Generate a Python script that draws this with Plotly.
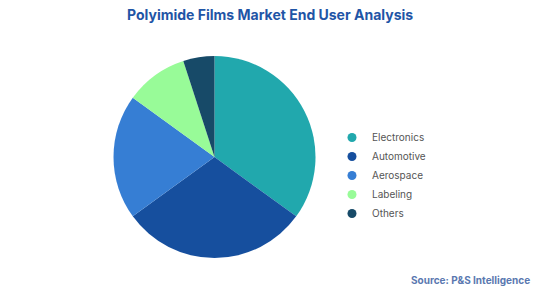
import plotly.graph_objects as go

categories = ["Electronics", "Automotive", "Aerospace", "Labeling", "Others"]
shares = [35, 30, 20, 10, 5]
colors = ["#21A8AD", "#164F9E", "#367ED4", "#98FB98", "#174A68"]

W, H = 539, 303
cx, cy, r = 214.5, 157, 101

fig = go.Figure()
fig.add_trace(go.Pie(
    labels=categories, values=shares, sort=False, direction="clockwise",
    rotation=0, marker=dict(colors=colors, line=dict(width=0)),
    textinfo="none", hoverinfo="label+percent", showlegend=False,
    domain=dict(x=[(cx - r) / W, (cx + r) / W], y=[(H - cy - r) / H, (H - cy + r) / H]),
))
for c, col in zip(categories, colors):
    fig.add_trace(go.Scatter(x=[None], y=[None], mode="markers", name=c,
                             marker=dict(symbol="circle", size=9, color=col)))

fig.update_layout(
    width=W, height=H, margin=dict(l=0, r=0, t=0, b=0),
    paper_bgcolor="white", plot_bgcolor="white",
    xaxis=dict(visible=False), yaxis=dict(visible=False),
    font=dict(family="Inter", color="#555555"),
    legend=dict(x=332 / W, y=(H - 123) / H, xanchor="left", yanchor="top",
                font=dict(size=10, color="#555555"), itemclick=False,
                tracegroupgap=0, bgcolor="rgba(0,0,0,0)"),
    annotations=[
        dict(text="<b>Polyimide Films Market End User Analysis</b>", x=0.5, y=1 - 14 / H,
             xref="paper", yref="paper", xanchor="center", yanchor="middle",
             showarrow=False, font=dict(size=14, color="#1F55A6", family="Inter")),
        dict(text="<b>Source: P&S Intelligence</b>", x=532 / W, y=1 - 280 / H,
             xref="paper", yref="paper", xanchor="right", yanchor="middle",
             showarrow=False, font=dict(size=10, color="#5A78B0", family="Inter")),
    ],
)
fig.write_html("out.html")
